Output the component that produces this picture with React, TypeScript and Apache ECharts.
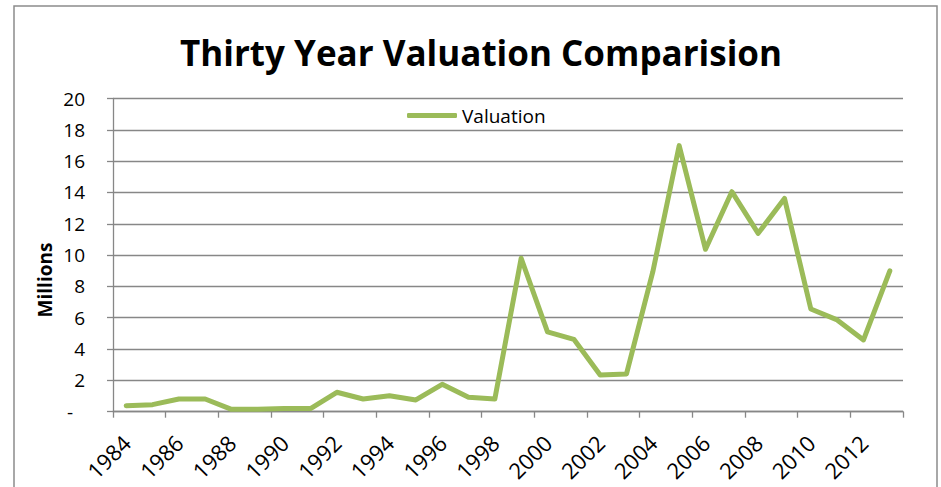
import React, { useEffect, useRef } from "react";
import * as echarts from "echarts";

const years: string[] = [
  "1984", "1985", "1986", "1987", "1988", "1989", "1990", "1991", "1992", "1993",
  "1994", "1995", "1996", "1997", "1998", "1999", "2000", "2001", "2002", "2003",
  "2004", "2005", "2006", "2007", "2008", "2009", "2010", "2011", "2012", "2013",
];

const valuation: number[] = [
  0.38, 0.45, 0.81, 0.81, 0.15, 0.15, 0.2, 0.2, 1.24, 0.81,
  1.02, 0.75, 1.75, 0.92, 0.81, 9.8, 5.1, 4.62, 2.34, 2.41,
  8.94, 16.99, 10.37, 14.05, 11.39, 13.62, 6.56, 5.86, 4.58, 8.99,
];

const titleText = "Thirty Year Valuation Comparision";
const seriesName = "Valuation";
const yAxisTitle = "Millions";

const FONT = "'Open Sans', 'Noto Sans', sans-serif";
const GRAY = "#878787";
const GREEN = "#9BBB59";

export default function App() {
  const ref = useRef<HTMLDivElement>(null);

  useEffect(() => {
    if (!ref.current) return;
    const chart = echarts.init(ref.current, null, { renderer: "svg" });
    chart.setOption({
      animation: false,
      backgroundColor: "#ffffff",
      textStyle: { fontFamily: FONT },
      title: {
        text: titleText,
        left: 175,
        top: 30,
        textStyle: { fontFamily: FONT, fontSize: 35, fontWeight: "bold", color: "#000" },
      },
      legend: {
        data: [seriesName],
        left: 407,
        top: 106,
        padding: 0,
        icon: "roundRect",
        itemWidth: 50,
        itemHeight: 5,
        itemStyle: { color: GREEN },
        textStyle: { fontFamily: FONT, fontSize: 19, color: "#000" },
      },
      graphic: [
        {
          type: "rect",
          shape: { x: 14, y: 6, width: 923, height: 520 },
          style: { fill: "none", stroke: "#8c8c8c", lineWidth: 1.5 },
          silent: true,
        },
        {
          type: "text",
          x: 45,
          y: 280,
          rotation: Math.PI / 2,
          style: {
            text: yAxisTitle,
            fontFamily: FONT,
            fontSize: 19,
            fontWeight: "bold",
            fill: "#000",
            align: "center",
            verticalAlign: "middle",
          },
        },
      ],
      grid: { left: 113, right: 38, top: 98.5, bottom: 75.3, outerBoundsMode: "none" },
      xAxis: {
        type: "category",
        data: years,
        boundaryGap: true,
        axisLine: { lineStyle: { color: GRAY, width: 1.3 } },
        axisTick: { show: true, interval: 1, length: 6, lineStyle: { color: GRAY, width: 1.3 } },
        axisLabel: {
          interval: 1,
          rotate: 45,
          margin: 27,
          fontFamily: FONT,
          fontSize: 22,
          lineHeight: 24,
          color: "#000",
        },
      },
      yAxis: {
        type: "value",
        min: 0,
        max: 20,
        interval: 2,
        axisLine: { show: true, lineStyle: { color: GRAY, width: 1.3 } },
        axisTick: { show: true, length: 6, lineStyle: { color: GRAY, width: 1.3 } },
        splitLine: { show: true, lineStyle: { color: GRAY, width: 1.3 } },
        axisLabel: {
          margin: 28,
          fontFamily: FONT,
          fontSize: 19,
          color: "#000",
          formatter: (v: number) => (v === 0 ? "{d|-}" : String(v)),
          rich: { d: { fontFamily: FONT, fontSize: 19, color: "#000", padding: [0, 12, 0, 0] } },
        },
      },
      series: [
        {
          name: seriesName,
          type: "line",
          data: valuation,
          symbol: "none",
          lineStyle: { color: GREEN, width: 5, join: "round", cap: "round" },
          itemStyle: { color: GREEN },
        },
      ],
    });
    return () => chart.dispose();
  }, []);

  return (
    <div
      ref={ref}
      style={{ position: "fixed", left: 0, top: 0, width: 941, height: 487 }}
    />
  );
}
